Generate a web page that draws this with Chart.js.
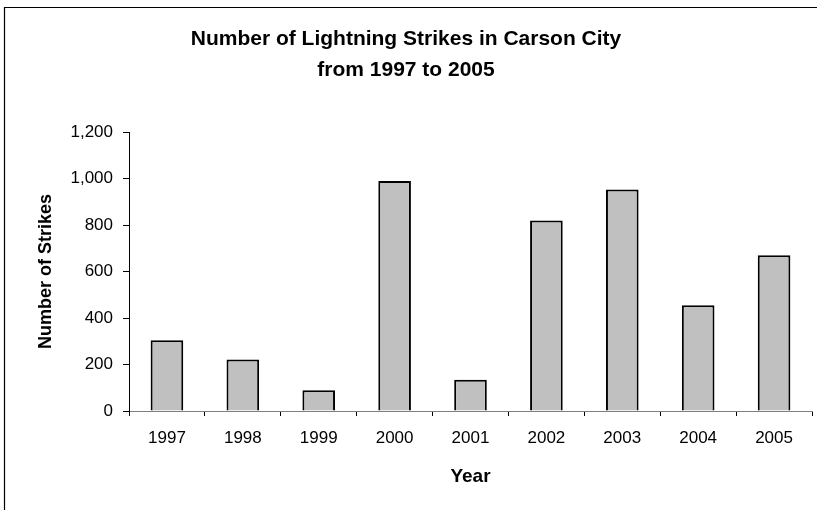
<!DOCTYPE html>
<html>
<head>
<meta charset="utf-8">
<script src="https://cdn.jsdelivr.net/npm/chart.js@4"></script>
<style>
  html, body { margin: 0; padding: 0; background: #fff; }
  canvas { display: block; }
</style>
</head>
<body>
<canvas id="c" width="817" height="510"></canvas>
<script>
const categories = ['1997','1998','1999','2000','2001','2002','2003','2004','2005'];
const strikes = [305, 222, 89, 990, 134, 820, 953, 455, 670];
const titleLines = ['Number of Lightning Strikes in Carson City', 'from 1997 to 2005'];
const yAxisTitle = 'Number of Strikes';
const xAxisTitle = 'Year';

const FONT = 'Liberation Sans, Arial, sans-serif';

const framePlugin = {
  id: 'frame',
  beforeDraw(chart) {
    const ctx = chart.ctx;
    ctx.save();
    ctx.fillStyle = '#fff';
    ctx.fillRect(0, 0, chart.width, chart.height);
    ctx.restore();
  },
  afterDraw(chart) {
    const ctx = chart.ctx;
    ctx.save();
    ctx.strokeStyle = '#000';
    ctx.lineWidth = 1.2;
    ctx.beginPath();
    ctx.moveTo(4.5, chart.height);
    ctx.lineTo(4.5, 7.5);
    ctx.lineTo(chart.width, 7.5);
    ctx.stroke();
    ctx.restore();
  }
};

new Chart(document.getElementById('c'), {
  type: 'bar',
  data: {
    labels: categories,
    datasets: [{
      data: strikes,
      backgroundColor: '#c0c0c0',
      borderColor: '#000',
      borderWidth: 2,
      barPercentage: 0.43,
      categoryPercentage: 1.0
    }]
  },
  options: {
    responsive: false,
    animation: false,
    devicePixelRatio: 1,
    layout: { padding: { left: 0, right: 5, top: 0, bottom: 0 } },
    plugins: {
      legend: { display: false },
      tooltip: { enabled: false },
      title: {
        display: true,
        text: titleLines,
        color: '#000',
        font: { family: FONT, size: 21, weight: 'bold', lineHeight: 1.48 },
        padding: { top: 24, bottom: 46 }
      }
    },
    scales: {
      x: {
        afterFit(scale) { scale.height = 99; },
        border: { display: true, color: '#808080', width: 1 },
        grid: { display: true, drawOnChartArea: false, drawTicks: true, tickLength: 5, color: '#000', offset: true },
        ticks: { color: '#000', font: { family: FONT, size: 17 }, padding: 12, maxRotation: 0 },
        title: {
          display: true, text: xAxisTitle, color: '#000',
          font: { family: FONT, size: 19, weight: 'bold' },
          padding: { top: 0, bottom: 22 }
        }
      },
      y: {
        min: 0, max: 1200,
        afterFit(scale) { scale.width = 129; },
        border: { display: true, color: '#000', width: 1 },
        grid: { display: true, drawOnChartArea: false, drawTicks: true, tickLength: 6, color: '#000' },
        ticks: {
          stepSize: 200, color: '#000', padding: 10,
          font: { family: FONT, size: 17 },
          callback: v => v.toLocaleString('en-US')
        },
        title: {
          display: true, text: yAxisTitle, color: '#000',
          font: { family: FONT, size: 18, weight: 'bold' },
          padding: { top: 35, bottom: 0 }
        }
      }
    }
  },
  plugins: [framePlugin]
});
</script>
</body>
</html>
